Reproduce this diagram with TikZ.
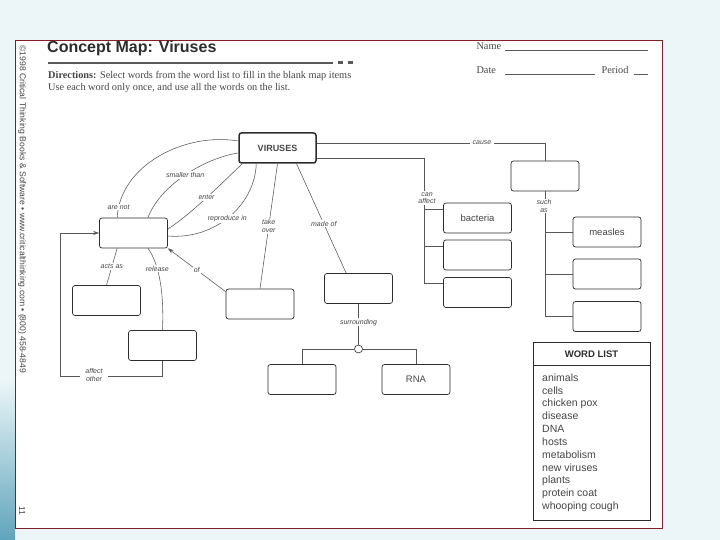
\documentclass[tikz,border=0pt]{standalone}
\usepackage{fontspec}
\setmainfont{Liberation Serif}
\setsansfont{Liberation Sans}
\usetikzlibrary{arrows.meta, positioning, calc}
\definecolor{slideblue}{RGB}{236,246,249}
\definecolor{slideteal}{RGB}{96,164,188}
\definecolor{pageline}{RGB}{130,30,40}
\definecolor{inkgray}{RGB}{45,45,45}
\definecolor{rulegray}{RGB}{90,90,90}
\definecolor{textgray}{RGB}{70,70,70}

\tikzset{
  blank/.style={draw=inkgray, line width=0.7pt, rounded corners=2.5pt, minimum width=68pt, minimum height=30pt, inner sep=0pt, text=textgray, font=\sffamily\fontsize{9.5}{11}\selectfont},
  link/.style={font=\sffamily\itshape\fontsize{7}{7.5}\selectfont, text=textgray, fill=white, inner sep=1pt, align=center},
  conn/.style={draw=inkgray!80, line width=0.55pt},
  credit/.style={font=\sffamily\fontsize{8.6}{10}\selectfont, text=textgray},
  formtext/.style={font=\fontsize{10.3}{12}\selectfont, text=textgray, anchor=west},
}

\begin{document}
\begin{tikzpicture}[x=1pt, y=-1pt]
  % slide and page
  \fill[slideblue] (0,0) rectangle (720,540);
  \shade[top color=slideblue, bottom color=slideteal] (0,380) rectangle (15,540);
  \fill[white] (15,40) rectangle (662,528);
  \draw[pageline, line width=0.7pt] (15,40) rectangle (662,528);
  \useasboundingbox (0,0) rectangle (720,540);

  % side credit
  \node[credit, rotate=-90, anchor=west] (credit) at (22,42) {\textcopyright 1998 Critical Thinking Books \& Software • www.criticalthinking.com • (800) 458-4849};
  \node[credit, rotate=-90] (pagenum) at (22,511) {11};

  % heading
  \node[anchor=west, inner sep=0pt, text=inkgray, font=\sffamily\bfseries\fontsize{16}{18}\selectfont] (title) at (47,48) {Concept Map: Viruses};
  \draw[rulegray, line width=2.6pt] (48,63) -- (333,63);
  \fill[rulegray] (338,61.5) rectangle (343,64.5);
  \fill[rulegray] (348,61.5) rectangle (353,64.5);
  \node[formtext, anchor=north west, inner sep=0pt, align=left] (directions) at (48,71.5) {\textbf{Directions:} Select words from the word list to fill in the blank map items\\Use each word only once, and use all the words on the list.};
  \node[formtext] (name) at (473,46) {Name};
  \draw[rulegray, line width=0.4pt] (505,50) -- (648,50);
  \node[formtext] (date) at (473,70) {Date};
  \draw[rulegray, line width=0.4pt] (505,74) -- (595,74);
  \node[formtext] (period) at (598,70) {Period};
  \draw[rulegray, line width=0.4pt] (634,74) -- (648,74);

  % map items
  \node[blank, line width=1.5pt, minimum width=77pt, font=\sffamily\bfseries\fontsize{9}{11}\selectfont] (vir) at (277.5,148) {VIRUSES};
  \node[blank] (cells) at (133.5,233) {};
  \node[blank] (hosts) at (106.5,300.5) {};
  \node[blank] (newv) at (162.5,345.5) {};
  \node[blank] (metab) at (260,304) {};
  \node[blank] (coat) at (358.5,288.5) {};
  \node[blank] (dna) at (302,379.5) {};
  \node[blank] (rna) at (416,379.5) {RNA};
  \node[blank] (disease) at (545,176) {};
  \node[blank] (bacteria) at (477.5,218) {bacteria};
  \node[blank] (plants) at (477.5,255) {};
  \node[blank] (animals) at (477.5,292.5) {};
  \node[blank] (measles) at (607,232) {measles};
  \node[blank] (chpox) at (607,274) {};
  \node[blank] (whoop) at (607,316.5) {};

  % links from VIRUSES on the left
  \draw[conn] ($(vir.west)+(0,-7)$) .. controls (185,132) and (120,165) .. node[link, pos=0.93] {are not} ($(cells.north west)+(18,0)$);
  \draw[conn] ($(vir.west)+(0,5)$) .. controls (205,158) and (160,185) .. node[link, pos=0.5] {smaller than} ($(cells.north)+(14.5,0)$);
  \draw[conn] ($(vir.south west)+(4,0)$) .. controls (220,185) and (190,215) .. node[link, pos=0.48] {enter} ($(cells.east)+(0,-4)$);
  \draw[conn] ($(vir.south west)+(18,0)$) .. controls (255,205) and (215,240) .. node[link, pos=0.52] {reproduce in} ($(cells.east)+(0,3)$);
  \draw[conn] (vir.south) -- node[link, pos=0.5] {take\\over} (metab.north);
  \draw[conn] ($(vir.south)+(19,0)$) -- node[link, pos=0.55] {made of} ($(coat.north west)+(22,0)$);
  \draw[conn, -{Stealth[length=6pt, width=4pt]}] ($(metab.north west)+(0,3)$) -- node[link, pos=0.5] {of} (cells.south east);

  % below cells
  \draw[conn] ($(cells.south west)+(18,0)$) -- node[link, pos=0.5] {acts as} (hosts.north);
  \draw[conn] ($(cells.south)+(14.5,0)$) .. controls (160,265) and (164,295) .. node[link, pos=0.33] {release} (newv.north);
  \coordinate (loopcorner) at (60,376);
  \draw[conn, -{Stealth[length=6pt, width=4pt]}] (newv.south) |- (loopcorner) |- (cells.west);
  \node[link, inner xsep=5pt] (otherlbl) at (94,375) {affect\\other};

  % links from VIRUSES on the right
  \draw[conn] ($(vir.east)+(0,-5)$) -| (disease.north);
  \node[link, inner xsep=3pt] (causelbl) at (482,143) {cause};
  \coordinate (affcorner) at (424,158);
  \draw[conn] ($(vir.east)+(0,10)$) -- (affcorner);
  \foreach \b in {bacteria, plants, animals}
    \draw[conn] (affcorner) |- ($(\b.north west)+(0,6.5)$);
  \node[link] (affectlbl) at (427,198) {can\\affect};
  \foreach \b in {measles, chpox, whoop}
    \draw[conn] (disease.south) |- (\b.west);
  \node[link] (suchlbl) at (544,206) {such\\as};

  % coat and nucleic acids
  \node[draw=inkgray, circle, line width=0.6pt, minimum size=8pt, inner sep=0pt] (ring) at (358.5,349) {};
  \draw[conn] (coat.south) -- node[link, pos=0.45] {surrounding} (ring.north);
  \draw[conn] (ring.west) -| (dna.north);
  \draw[conn] (ring.east) -| (rna.north);

  % word list
  \node[draw=inkgray, line width=0.7pt, minimum width=117pt, minimum height=178pt, inner sep=0pt, anchor=north west] (wordlist) at (533,342) {};
  \node[text=inkgray, font=\sffamily\bfseries\fontsize{9.5}{11}\selectfont] (wlhead) at (591.5,354) {WORD LIST};
  \draw[inkgray, line width=0.6pt] (wordlist.west |- 0,365) -- (wordlist.east |- 0,365);
  \foreach \w [count=\i] in {animals, cells, chicken pox, disease, DNA, hosts, metabolism, new viruses, plants, protein coat, whooping cough}
    \node[anchor=base west, inner sep=0pt, text=textgray, font=\sffamily\fontsize{10.5}{12}\selectfont] at (542, 368.3+12.85*\i) {\w};
\end{tikzpicture}
\end{document}
